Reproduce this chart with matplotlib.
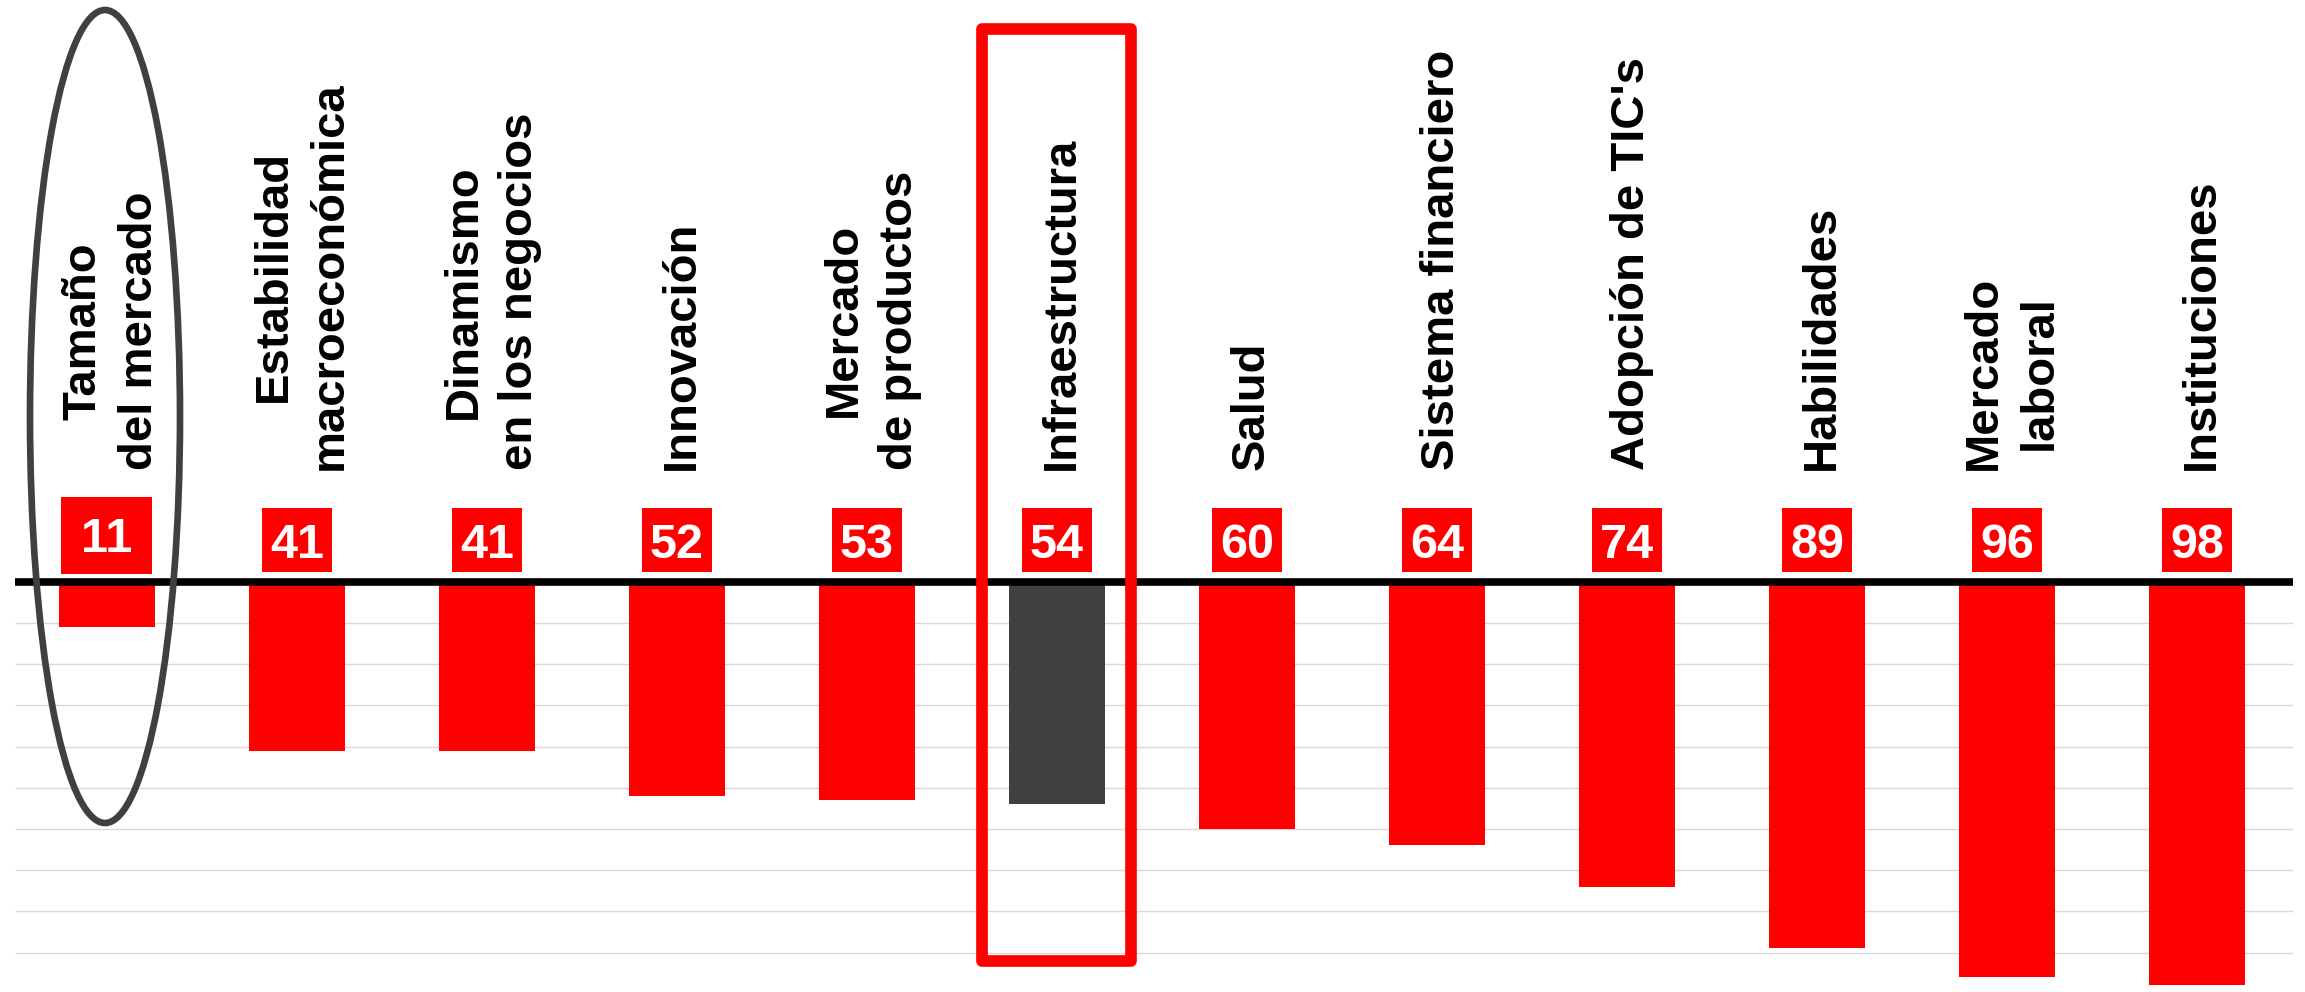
import matplotlib.pyplot as plt
from matplotlib.patches import Rectangle, Ellipse

# Data
categories = ["Tamaño\ndel mercado", "Estabilidad\nmacroeconómica", "Dinamismo\nen los negocios",
              "Innovación", "Mercado\nde productos", "Infraestructura", "Salud",
              "Sistema financiero", "Adopción de TIC's", "Habilidades", "Mercado\nlaboral",
              "Instituciones"]
ranks = [11, 41, 41, 52, 53, 54, 60, 64, 74, 89, 96, 98]
highlight = "Infraestructura"
circled = "Tamaño\ndel mercado"
grid_levels = [-10, -20, -30, -40, -50, -60, -70, -80, -90]

RED = '#ff0000'
DARK = '#404040'

# pixel scale of the layout (pixels per data unit)
PX_X = 190.0
PX_Y = 4.12
X0 = 107.0     # pixel x of first bar centre
Y0 = 581.7     # pixel y of the zero line

plt.rcParams['font.family'] = ['Liberation Sans', 'DejaVu Sans']

fig = plt.figure(figsize=(23.05, 9.92), dpi=100)
ax = fig.add_axes([0, 0, 1, 1])
ax.set_xlim(-X0 / PX_X, (2305 - X0) / PX_X)
ax.set_ylim(-(992 - Y0) / PX_Y, Y0 / PX_Y)
ax.axis('off')

x = list(range(len(categories)))
line_left = (15 - X0) / PX_X
line_right = (2293 - X0) / PX_X

# grid lines behind the bars
ax.hlines(grid_levels, line_left, line_right, color='#d9d9d9', lw=1.0, zorder=1)

# bars hang down from zero
colors = [DARK if c == highlight else RED for c in categories]
ax.bar(x, [-r for r in ranks], width=0.505, color=colors, zorder=2)

# thick zero line
ax.hlines(0, line_left, line_right, color='black', lw=5.5, zorder=3)

# rank boxes above the line
for i, (cat, r) in enumerate(zip(categories, ranks)):
    if cat == circled:
        w, h, cy = 91, 77, 535
    else:
        w, h, cy = 70, 64, 540
    wd, hd, cyd = w / PX_X, h / PX_Y, (Y0 - cy) / PX_Y
    ax.add_patch(Rectangle((i - wd / 2, cyd - hd / 2), wd, hd, color=RED, lw=0, zorder=4))
    ax.text(i, cyd, str(r), color='white', fontsize=35, fontweight='bold',
            ha='center', va='center_baseline', zorder=5)

# rotated category names
label_bottom = (Y0 - 470) / PX_Y
for i, cat in enumerate(categories):
    ax.text(i + 0.026, label_bottom, cat, rotation=90, ha='center', va='bottom',
            multialignment='center', fontsize=34, fontweight='bold',
            linespacing=1.35, color='black', zorder=5)

# ellipse around the first category
i0 = categories.index(circled)
ax.add_patch(Ellipse((i0 - 2 / PX_X, (Y0 - 416.5) / PX_Y), 150 / PX_X, 813 / PX_Y,
                     fill=False, ec=DARK, lw=4.8, zorder=6))

# red frame around the highlighted category
i5 = categories.index(highlight)
left, right = i5 - 0.395, i5 + 0.389
top, bottom = (Y0 - 28.5) / PX_Y, -(961 - Y0) / PX_Y
ax.add_patch(Rectangle((left, bottom), right - left, top - bottom, fill=False,
                       ec=RED, lw=8.4, joinstyle='round', zorder=6))

fig.savefig('out.png', dpi=100)
